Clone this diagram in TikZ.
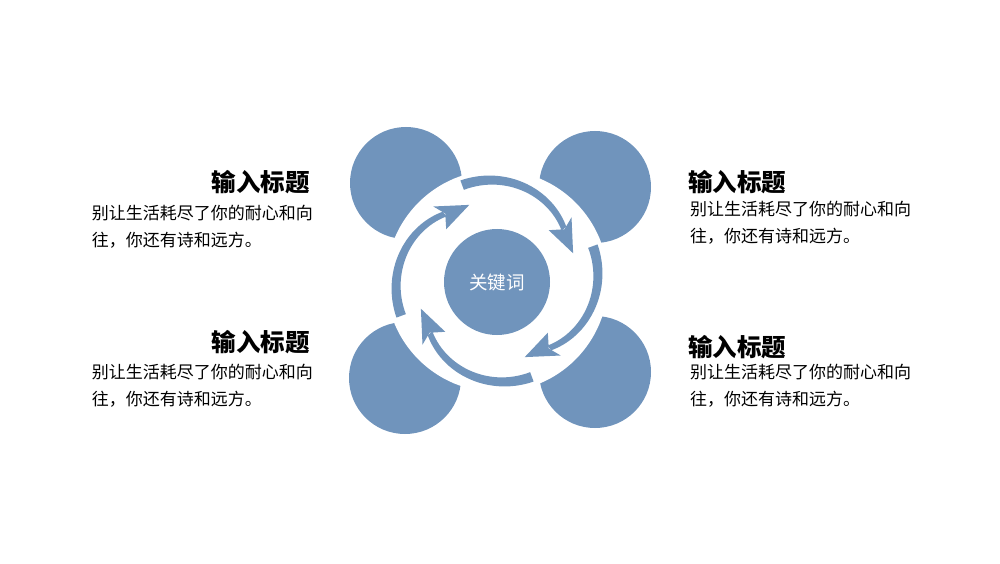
\documentclass[tikz,border=0pt]{standalone}
\usepackage{fontspec}
\setmainfont{Noto Sans CJK SC}
\usetikzlibrary{positioning}
\definecolor{keyblue}{RGB}{112,148,188}

\begin{document}
\begin{tikzpicture}[x=1pt, y=1pt,
	blob/.style = {circle, fill=keyblue, minimum size=112pt, inner sep=0pt},
	hub/.style = {circle, fill=keyblue, minimum size=106pt, inner sep=0pt, text=white, font=\fontsize{18.5}{22}\selectfont},
	ttl/.style = {inner sep=0pt, font=\fontsize{24.5}{28}\selectfont\bfseries},
	txt/.style = {inner sep=0pt, align=left, font=\fontsize{17}{26.5}\selectfont},
	swirl/.pic = {
		\fill[keyblue] plot[domain=0:1, samples=30] ({110-72*\x}:{102-17*\x*\x+5-2*\x})
			-- plot[domain=1:0, samples=30] ({110-72*\x}:{102-17*\x*\x-5+2*\x}) -- cycle;
		\fill[keyblue] (40.5:98) -- (20:81) -- (44.5:72.5) -- (37.5:85) -- cycle;
	}]
	\useasboundingbox (0,0) rectangle (1000,563);
	\coordinate (c) at (497,282);

	\node[blob] (tl) at (406,380) {};
	\node[blob] (tr) at (595,376) {};
	\node[blob] (bl) at (405,185) {};
	\node[blob] (br) at (595,191) {};
	\fill[white] (c) circle (111);

	\pic at (c) {swirl};
	\pic[rotate=-90] at (c) {swirl};
	\pic[rotate=-180] at (c) {swirl};
	\pic[rotate=-270] at (c) {swirl};
	\node[hub] (key) at (497,281) {关键词};

	\node[ttl, anchor=base east] (t1) at (310,371) {输入标题};
	\node[txt, below=54pt of t1.base east, anchor=base east, xshift=3pt] (b1) {别让生活耗尽了你的耐心和向\\往，你还有诗和远方。};
	\node[ttl, anchor=base west] (t2) at (688,371) {输入标题};
	\node[txt, below=50.5pt of t2.base west, anchor=base west, xshift=2pt] (b2) {别让生活耗尽了你的耐心和向\\往，你还有诗和远方。};
	\node[ttl, anchor=base east] (t3) at (310,212) {输入标题};
	\node[txt, below=54pt of t3.base east, anchor=base east, xshift=3pt] (b3) {别让生活耗尽了你的耐心和向\\往，你还有诗和远方。};
	\node[ttl, anchor=base west] (t4) at (688,207) {输入标题};
	\node[txt, below=49pt of t4.base west, anchor=base west, xshift=2pt] (b4) {别让生活耗尽了你的耐心和向\\往，你还有诗和远方。};
\end{tikzpicture}
\end{document}
